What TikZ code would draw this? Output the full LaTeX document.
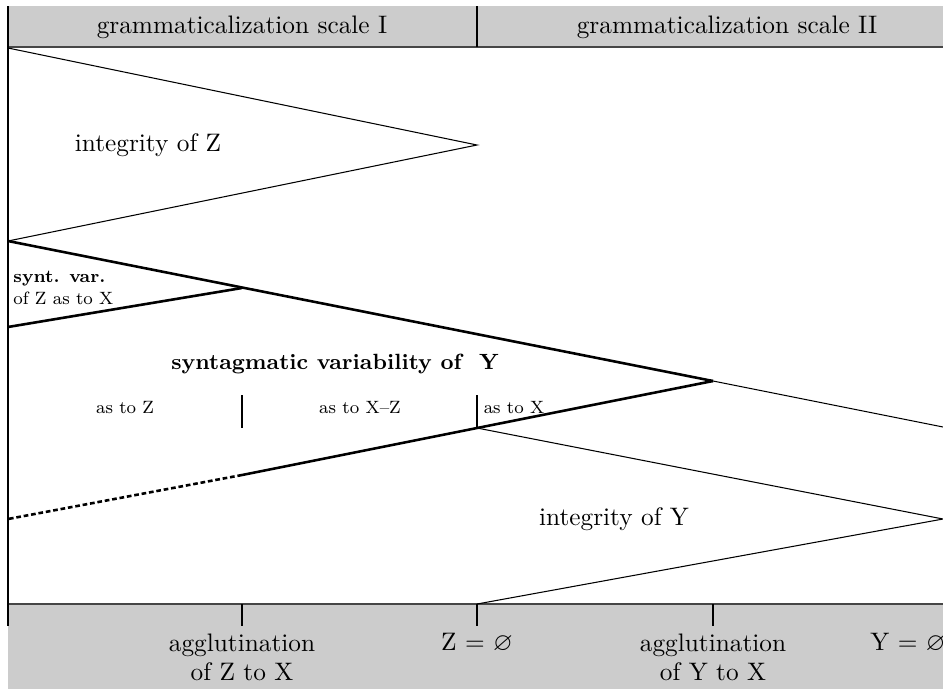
\documentclass[tikz,border=0pt]{standalone}
\usepackage{amssymb}
\usetikzlibrary{positioning}
\definecolor{bandgray}{RGB}{204,204,204}
\definecolor{linegray}{RGB}{70,70,70}
\tikzset{
  thinline/.style={line width=0.45pt},
  thickline/.style={line width=1.1pt},
  dashline/.style={thickline, dash pattern=on 2pt off 1.2pt},
  bigtext/.style={font=\fontsize{10.8}{12.5}\selectfont, align=center, inner sep=0pt},
  smalltext/.style={font=\fontsize{7.6}{9.2}\selectfont, align=left, inner sep=0pt},
  boldtext/.style={font=\bfseries\fontsize{9.4}{11}\selectfont, inner sep=0pt}
}

\begin{document}
\begin{tikzpicture}[x=0.015cm, y=-0.015cm]
  \useasboundingbox (0,0) rectangle (943,689);
  % grey bands
  \fill[bandgray] (8,6) rectangle (943,47);
  \fill[bandgray] (8,604) rectangle (943,689);
  \draw[thinline, linegray] (8,47) -- (943,47);
  \draw[thinline, linegray] (8,604) -- (943,604);
  \draw[thinline] (477,6) -- (477,47);
  \node[bigtext] (scaleI) at (242,27) {grammaticalization scale I};
  \node[bigtext] (scaleII) at (727,27) {grammaticalization scale II};
  % corner points
  \coordinate (top) at (8,6);
  \coordinate (zA) at (8,48);
  \coordinate (zTip) at (477,145);
  \coordinate (zB) at (8,241);
  \coordinate (sTip) at (242,288);
  \coordinate (sB) at (8,327);
  \coordinate (yTip) at (713,381);
  \coordinate (yEnd) at (943,427);
  \coordinate (zNull) at (477,428);
  \coordinate (aggZ) at (242,475);
  \coordinate (yB) at (8,519);
  \coordinate (iTip) at (943,519);
  \coordinate (iB) at (477,604);
  \coordinate (bottom) at (8,626);
  % axis and ticks
  \draw[thinline] (top) -- (bottom);
  \foreach \x in {242,477,713}
    \draw[thinline] (\x,604) -- (\x,626);
  \foreach \x in {242,477}
    \draw[thinline] (\x,395) -- (\x,428);
  % wedges
  \draw[thinline] (zA) -- (zTip) -- (zB);
  \draw[thickline] (zB) -- (yTip);
  \draw[thinline] (yTip) -- (yEnd);
  \draw[thickline] (sTip) -- (sB);
  \draw[thickline] (yTip) -- (zNull) -- (aggZ);
  \draw[dashline] (aggZ) -- (yB);
  \draw[thinline] (zNull) -- (iTip) -- (iB);
  % labels
  \node[bigtext] (intZ) at (148,145) {integrity of Z};
  \node[smalltext, anchor=west] (syntZ) at (13,288) {\textbf{synt. var.}\\of Z as to X};
  \node[boldtext] (syntY) at (335,364) {syntagmatic variability of~ Y};
  \node[smalltext] (asZ) at (125,407) {as to Z};
  \node[smalltext] (asXZ) at (360,407) {as to X--Z};
  \node[smalltext] (asX) at (514,407) {as to X};
  \node[bigtext] (intY) at (614,519) {integrity of Y};
  \node[bigtext] (aggZX) at (242,657) {agglutination\\of Z to X};
  \node[bigtext] (zEmpty) at (477,643) {Z = $\varnothing$};
  \node[bigtext] (aggYX) at (713,657) {agglutination\\of Y to X};
  \node[bigtext, anchor=east] (yEmpty) at (946,643) {Y = $\varnothing$};
\end{tikzpicture}
\end{document}
